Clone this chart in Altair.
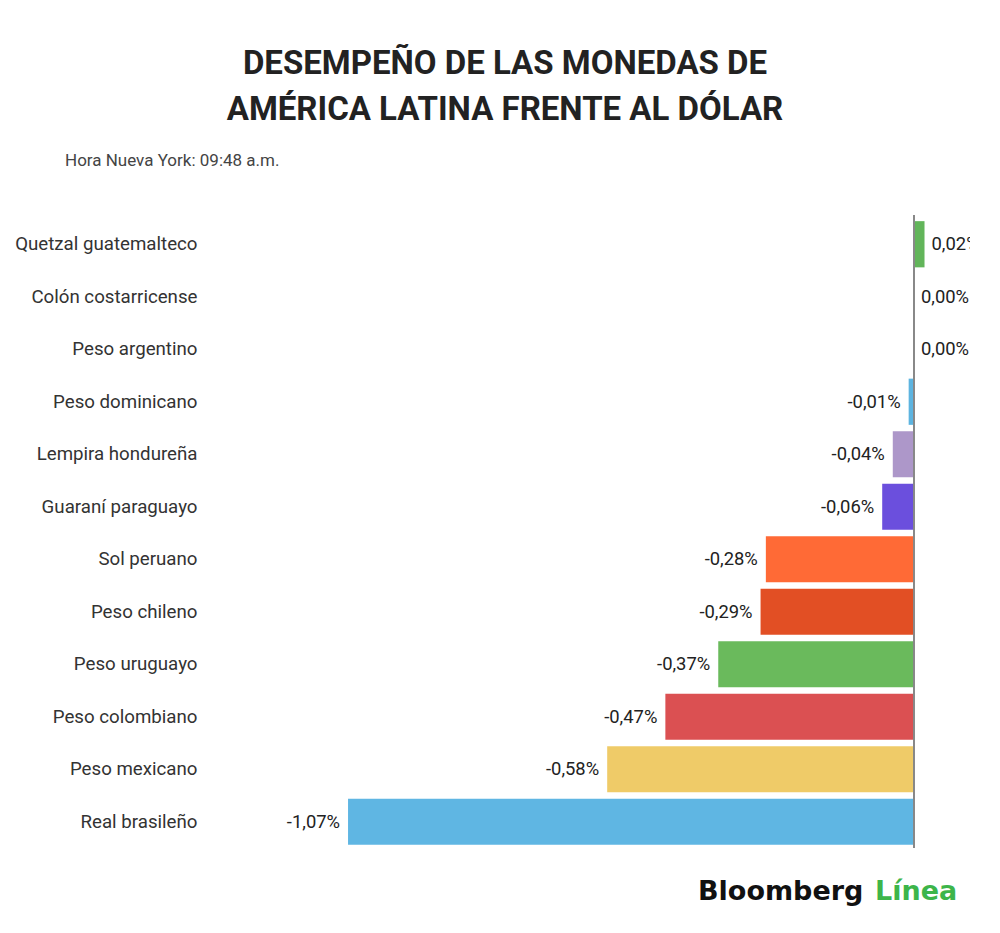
import altair as alt
import pandas as pd

currencies = [
    "Quetzal guatemalteco", "Colón costarricense", "Peso argentino",
    "Peso dominicano", "Lempira hondureña", "Guaraní paraguayo",
    "Sol peruano", "Peso chileno", "Peso uruguayo", "Peso colombiano",
    "Peso mexicano", "Real brasileño",
]
values = [0.02, 0.00, 0.00, -0.01, -0.04, -0.06, -0.28, -0.29, -0.37, -0.47, -0.58, -1.07]
colors = ["#62b55a", "#62b55a", "#62b55a", "#5db4e0", "#ad97c9", "#6b4fdd",
          "#ff6a36", "#e24f24", "#6aba5c", "#db5052", "#efcb68", "#5fb6e3"]
labels = [f"{v:.2f}".replace(".", ",").replace("-0,00", "0,00") + "%" for v in values]

title_lines = ["DESEMPEÑO DE LAS MONEDAS DE", "AMÉRICA LATINA FRENTE AL DÓLAR"]
subtitle = "Hora Nueva York: 09:48 a.m."

df = pd.DataFrame({
    "moneda": currencies,
    "valor": values,
    "color": colors,
    "label": labels,
})

W, H = 760, 630
FONT = "Roboto"

xscale = alt.Scale(domain=[-1.331, 0.106], nice=False, zero=False)
yenc = alt.Y("moneda:N", sort=currencies,
             scale=alt.Scale(paddingInner=0.12, paddingOuter=0.06),
             axis=alt.Axis(title=None, ticks=False, domain=False, labelFontSize=18.7,
                           labelColor="#333333", labelFont=FONT, labelPadding=13,
                           labelLimit=300))

bars = alt.Chart(df).mark_bar().encode(
    x=alt.X("valor:Q", scale=xscale, axis=None),
    x2=alt.datum(0),
    y=yenc,
    color=alt.Color("color:N", scale=None),
)

neg_text = alt.Chart(df).transform_filter("datum.valor < 0").mark_text(
    align="right", baseline="middle", dx=-8, fontSize=18.4, font=FONT, color="#222222",
    clip=True,
).encode(x=alt.X("valor:Q", scale=xscale), y=alt.Y("moneda:N", sort=currencies), text="label:N")

pos_text = alt.Chart(df).transform_filter("datum.valor >= 0").mark_text(
    align="left", baseline="middle", dx=7, fontSize=18.4, font=FONT, color="#222222",
    clip=True,
).encode(x=alt.X("valor:Q", scale=xscale), y=alt.Y("moneda:N", sort=currencies), text="label:N")

zero_rule = alt.Chart(df).mark_rule(color="#888888", strokeWidth=1).encode(
    x=alt.datum(0), y=alt.value(-3), y2=alt.value(H)
)

tdf = pd.DataFrame({"t": title_lines, "yy": [-144, -98]})
title = alt.Chart(tdf).mark_text(
    align="center", baseline="alphabetic", fontSize=33, fontWeight="bold",
    font=FONT, color="#222222",
).encode(x=alt.value(295), y=alt.Y("yy:Q", scale=None), text="t:N")

sub = alt.Chart(pd.DataFrame({"t": [subtitle]})).mark_text(
    align="left", baseline="alphabetic", fontSize=17, font=FONT, color="#444444",
).encode(x=alt.value(-145), y=alt.value(-52), text="t:N")

logo1 = alt.Chart(pd.DataFrame({"t": ["Bloomberg"]})).mark_text(
    align="left", baseline="alphabetic", fontSize=27, fontWeight="bold",
    font="DejaVu Sans", color="#111111",
).encode(x=alt.value(488), y=alt.value(682), text="t:N")

logo2 = alt.Chart(pd.DataFrame({"t": ["Línea"]})).mark_text(
    align="left", baseline="alphabetic", fontSize=27, fontWeight="bold",
    font="DejaVu Sans", color="#3db54a",
).encode(x=alt.value(665), y=alt.value(682), text="t:N")

chart = alt.layer(bars, zero_rule, neg_text, pos_text, title, sub, logo1, logo2).properties(
    width=W, height=H,
    padding={"left": 202, "top": 210, "right": 22, "bottom": 70},
    autosize=alt.AutoSizeParams(type="none"),
    background="white",
).configure_view(stroke=None)

chart.save("out.html", embed_options={"renderer": "svg", "actions": False})
